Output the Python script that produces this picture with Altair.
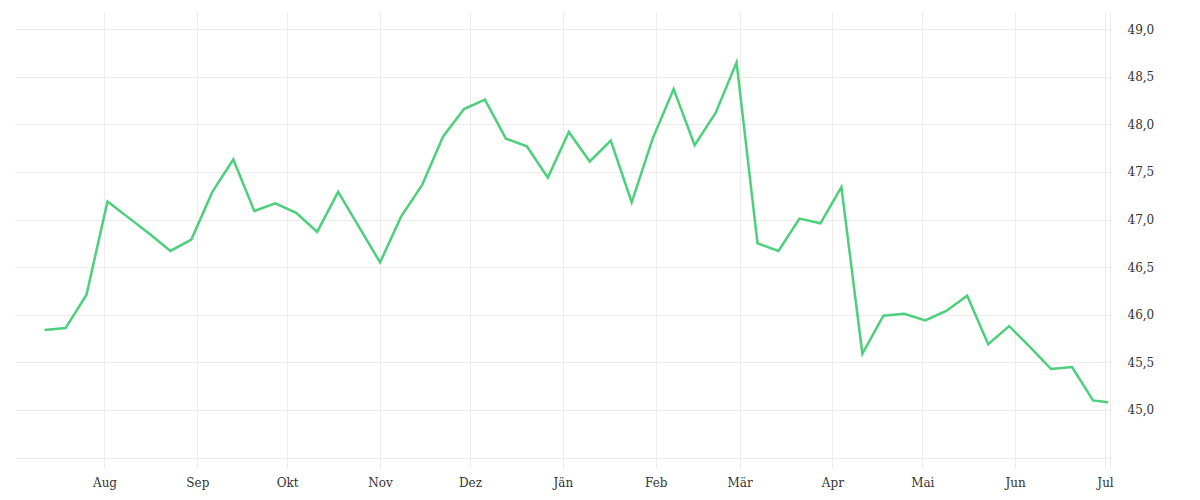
import altair as alt
import pandas as pd

dates = [
    "2022-07-12", "2022-07-19", "2022-07-26",
    "2022-08-02", "2022-08-09", "2022-08-16", "2022-08-23", "2022-08-30",
    "2022-09-06", "2022-09-13", "2022-09-20", "2022-09-27",
    "2022-10-04", "2022-10-11", "2022-10-18", "2022-10-25",
    "2022-11-01", "2022-11-08", "2022-11-15", "2022-11-22", "2022-11-29",
    "2022-12-06", "2022-12-13", "2022-12-20", "2022-12-27",
    "2023-01-03", "2023-01-10", "2023-01-17", "2023-01-24", "2023-01-31",
    "2023-02-07", "2023-02-14", "2023-02-21", "2023-02-28",
    "2023-03-07", "2023-03-14", "2023-03-21", "2023-03-28",
    "2023-04-04", "2023-04-11", "2023-04-18", "2023-04-25",
    "2023-05-02", "2023-05-09", "2023-05-16", "2023-05-23", "2023-05-30",
    "2023-06-06", "2023-06-13", "2023-06-20", "2023-06-27",
    "2023-07-02",
]

values = [
    45.84, 45.86, 46.21,
    47.19, 47.02, 46.85, 46.67, 46.79,
    47.29, 47.63, 47.09, 47.17,
    47.07, 46.87, 47.29, 46.92,
    46.55, 47.03, 47.36, 47.87, 48.16,
    48.26, 47.85, 47.77, 47.44,
    47.92, 47.61, 47.83, 47.18, 47.85,
    48.37, 47.78, 48.12, 48.65,
    46.75, 46.67, 47.01, 46.96,
    47.34, 45.59, 45.99, 46.01,
    45.94, 46.04, 46.20, 45.69, 45.88,
    45.66, 45.43, 45.45, 45.10,
    45.08,
]

y_ticks = [44.5, 45.0, 45.5, 46.0, 46.5, 47.0, 47.5, 48.0, 48.5, 49.0]
month_names = ["Jän", "Feb", "Mär", "Apr", "Mai", "Jun", "Jul", "Aug", "Sep", "Okt", "Nov", "Dez"]

df = pd.DataFrame({"date": [d + "T00:00:00" for d in dates], "value": values})

month_expr = "[" + ",".join("'" + m + "'" for m in month_names) + "][month(datum.value)]"

FONT = "DejaVu Serif"
GRID = "#ececec"

chart = (
    alt.Chart(df)
    .mark_line(color="#4cd07c", strokeWidth=2.5)
    .encode(
        x=alt.X(
            "date:T",
            scale=alt.Scale(
                domain=[
                    alt.DateTime(year=2022, month=7, date=2, hours=3),
                    alt.DateTime(year=2023, month=7, date=2, hours=16),
                ],
                nice=False,
            ),
            axis=alt.Axis(
                title=None,
                tickCount={"interval": "month", "step": 1},
                labelExpr=month_expr,
                domain=False,
                ticks=False,
                grid=True,
                gridColor=GRID,
                labelFont=FONT,
                labelFontSize=12,
                labelColor="#333333",
                labelPadding=9,
                labelFlush=False,
            ),
        ),
        y=alt.Y(
            "value:Q",
            scale=alt.Scale(domain=[44.39, 49.18], nice=False, zero=False),
            axis=alt.Axis(
                title=None,
                orient="right",
                values=y_ticks,
                labelExpr="datum.value < 44.9 ? '' : replace(format(datum.value, '.1f'), '.', ',')",
                domain=True,
                domainColor=GRID,
                ticks=False,
                grid=True,
                gridColor=GRID,
                labelFont=FONT,
                labelFontSize=12,
                labelColor="#333333",
                labelPadding=17,
                labelFlush=False,
            ),
        ),
    )
    .properties(
        width=1095,
        height=456,
        padding={"left": 7, "top": 4, "right": 5, "bottom": 5},
    )
    .configure_view(stroke="transparent")
)

chart.save("out.html", embed_options={"renderer": "svg", "actions": False})
